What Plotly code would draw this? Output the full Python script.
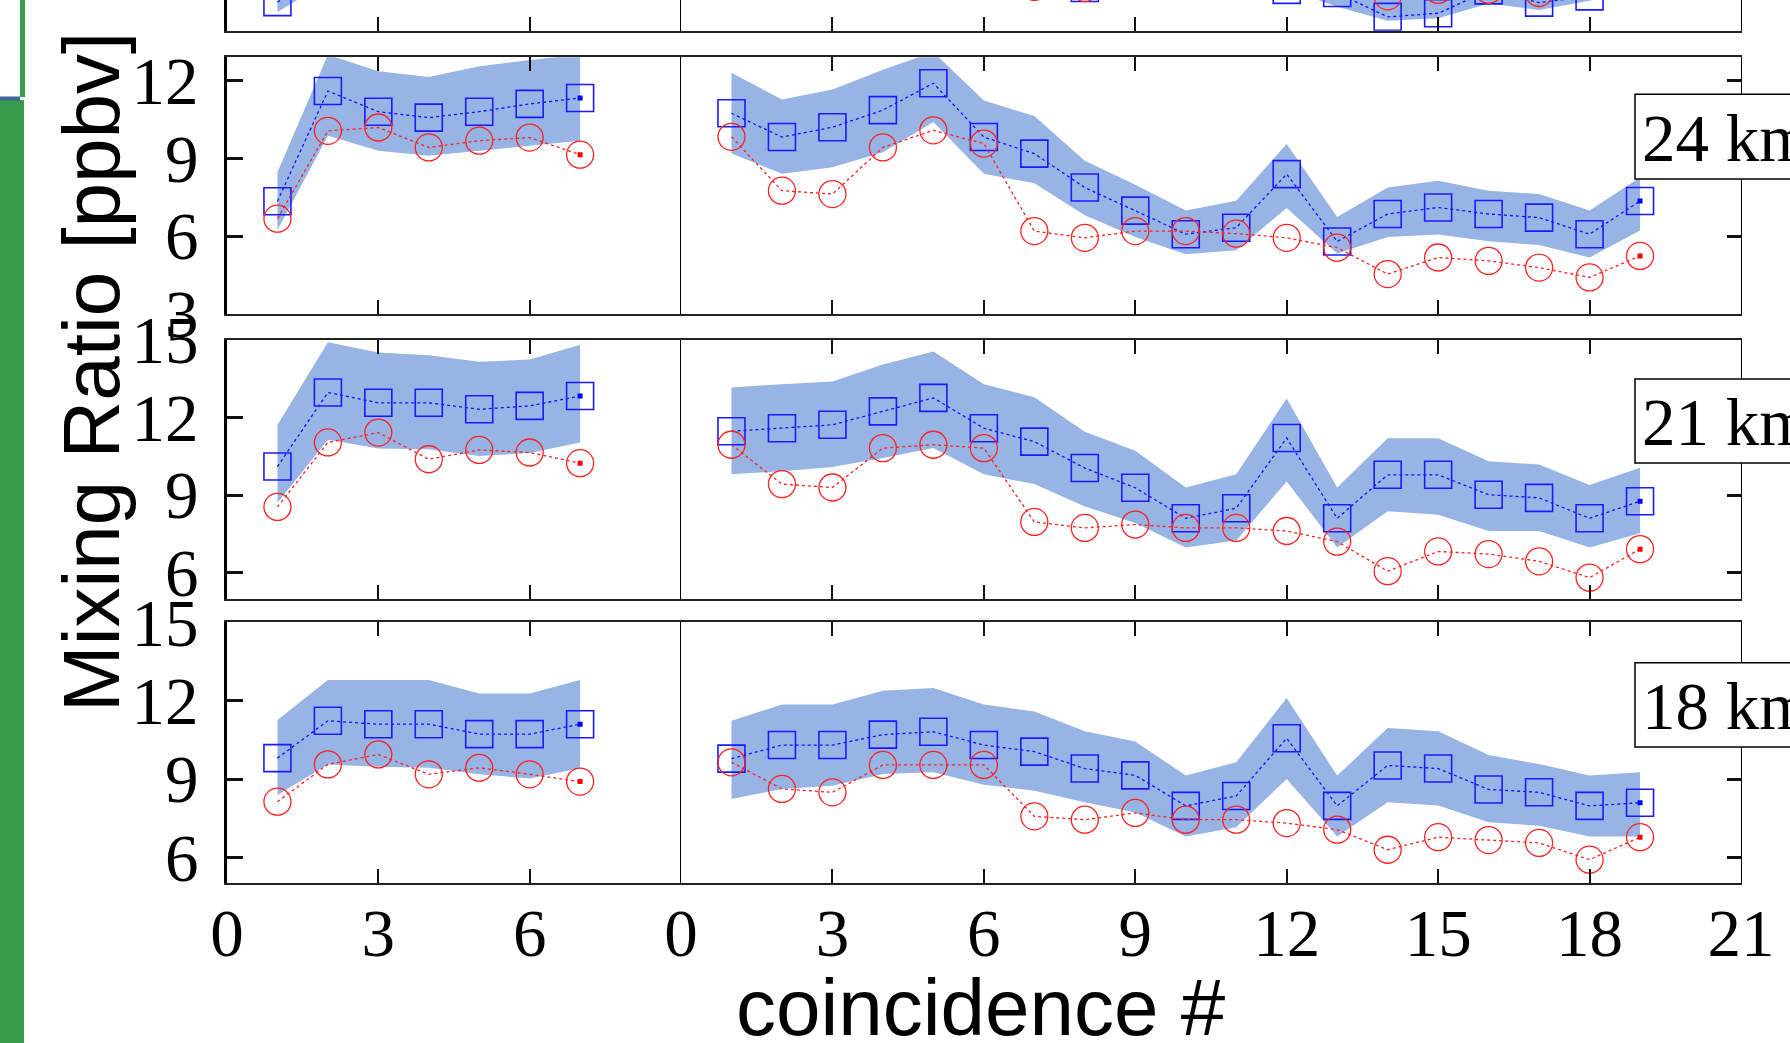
import plotly.graph_objects as go

W, H = 1790, 1043

# ---------------- data ----------------
x_left = [1, 2, 3, 4, 5, 6, 7]
x_right = list(range(1, 20))

left_ticks = [0, 3, 6]
right_ticks = [0, 3, 6, 9, 12, 15, 18, 21]

panel_labels = ["", "24 km", "21 km", "18 km"]

# partially visible top panel
top_blue_l = [1.10, 2.30, 2.20, 2.20, 2.20, 2.20, 2.20]
top_red_l = [1.90, 2.40, 2.40, 2.40, 2.40, 2.40, 2.40]
top_lo_l = [0.72, 1.90, 1.90, 1.90, 1.90, 1.90, 1.90]
top_hi_l = [2.20, 3.40, 3.40, 3.40, 3.40, 3.40, 3.40]
top_blue_r = [2.5, 2.5, 2.5, 2.5, 2.5, 2.4, 1.9, 1.64, 2.0, 2.2, 2.0, 1.57, 1.45, 0.53, 0.67, 1.55, 1.08, 1.32, 1.9]
top_red_r = [2.6, 2.6, 2.6, 2.6, 2.6, 2.5, 1.68, 1.64, 2.2, 2.3, 2.2, 1.8, 1.75, 1.32, 1.57, 1.57, 1.45, 1.9, 2.0]
top_lo_r = [2.3, 2.3, 2.3, 2.3, 2.3, 2.3, 1.6, 1.5, 1.9, 1.9, 1.9, 1.6, 0.92, 0.38, 0.48, 1.05, 0.8, 1.15, 1.6]
top_hi_r = [3.8, 3.8, 3.8, 3.8, 3.8, 3.8, 3.1, 3.0, 3.4, 3.4, 3.4, 3.1, 2.4, 1.9, 2.0, 2.5, 2.3, 2.6, 3.1]

# 24 km
km24_blue_l = [7.34, 11.6, 10.8, 10.57, 10.8, 11.1, 11.33]
km24_red_l = [6.67, 10.06, 10.19, 9.42, 9.68, 9.80, 9.14]
km24_hi_l = [8.46, 13.0, 12.36, 12.14, 12.55, 12.8, 13.0]
km24_lo_l = [6.23, 9.87, 9.29, 9.10, 9.29, 9.48, 9.68]
km24_blue_r = [10.74, 9.82, 10.2, 10.86, 11.9, 9.82, 9.18, 7.87, 6.98, 6.07, 6.32, 8.39, 5.79, 6.85, 7.10, 6.85, 6.71, 6.07, 7.35]
km24_red_r = [9.83, 7.75, 7.62, 9.42, 10.08, 9.57, 6.19, 5.93, 6.19, 6.19, 6.09, 5.93, 5.55, 4.53, 5.17, 5.04, 4.78, 4.40, 5.23]
km24_hi_r = [12.3, 11.27, 11.66, 12.42, 13.1, 11.23, 10.63, 8.91, 7.98, 6.98, 7.36, 9.55, 6.73, 7.87, 8.13, 7.75, 7.62, 6.98, 8.26]
km24_lo_r = [9.19, 8.40, 8.65, 9.23, 10.4, 8.40, 8.04, 6.80, 5.96, 5.30, 5.45, 7.08, 5.32, 5.96, 6.06, 5.80, 5.65, 5.17, 6.21]

# 21 km
km21_blue_l = [10.1, 12.96, 12.56, 12.56, 12.31, 12.44, 12.82]
km21_red_l = [8.54, 11.03, 11.41, 10.38, 10.74, 10.64, 10.23]
km21_hi_l = [11.7, 14.9, 14.5, 14.4, 14.14, 14.23, 14.8]
km21_lo_l = [8.7, 11.13, 10.8, 10.77, 10.51, 10.62, 11.03]
km21_blue_r = [11.46, 11.58, 11.71, 12.23, 12.75, 11.58, 11.06, 10.04, 9.28, 8.10, 8.49, 11.2, 8.10, 9.78, 9.78, 9.01, 8.89, 8.10, 8.76]
km21_red_r = [10.94, 9.42, 9.29, 10.81, 10.94, 10.81, 7.96, 7.73, 7.86, 7.73, 7.73, 7.61, 7.20, 6.06, 6.82, 6.72, 6.44, 5.81, 6.91]
km21_hi_r = [13.15, 13.28, 13.38, 14.04, 14.54, 13.28, 12.77, 11.44, 10.71, 9.29, 9.80, 12.73, 9.29, 11.19, 11.19, 10.30, 10.18, 9.39, 10.05]
km21_lo_r = [9.80, 9.92, 10.08, 10.43, 10.81, 9.80, 9.42, 8.56, 7.92, 6.97, 7.24, 9.52, 6.97, 8.37, 8.24, 7.61, 7.61, 6.97, 7.52]

# 18 km
km18_blue_l = [9.80, 11.23, 11.10, 11.10, 10.72, 10.72, 11.10]
km18_red_l = [8.13, 9.56, 9.94, 9.18, 9.43, 9.18, 8.90]
km18_hi_l = [11.26, 12.79, 12.79, 12.79, 12.28, 12.28, 12.79]
km18_lo_l = [8.39, 9.56, 9.47, 9.43, 9.18, 9.02, 9.41]
km18_blue_r = [9.78, 10.3, 10.3, 10.7, 10.81, 10.3, 10.05, 9.40, 9.14, 7.97, 8.35, 10.56, 7.97, 9.52, 9.40, 8.60, 8.49, 7.97, 8.09]
km18_red_r = [9.64, 8.62, 8.49, 9.54, 9.54, 9.54, 7.57, 7.44, 7.70, 7.44, 7.44, 7.31, 7.06, 6.29, 6.77, 6.66, 6.55, 5.91, 6.77]
km18_hi_r = [11.23, 11.85, 11.85, 12.38, 12.49, 11.85, 11.59, 10.83, 10.44, 9.13, 9.64, 12.10, 9.13, 10.95, 10.83, 9.92, 9.57, 9.13, 9.26]
km18_lo_r = [8.23, 8.62, 8.74, 9.19, 9.26, 8.78, 8.55, 8.11, 7.72, 6.80, 7.15, 9.00, 6.80, 8.11, 7.98, 7.34, 7.21, 6.80, 6.80]

y_ranges = [[0, 1.18], [3, 12.9], [5, 15], [5, 15]]
y_ticks = [[0], [3, 6, 9, 12], [6, 9, 12, 15], [6, 9, 12, 15]]

panel_data = [
    [(top_blue_l, top_red_l, top_lo_l, top_hi_l), (top_blue_r, top_red_r, top_lo_r, top_hi_r)],
    [(km24_blue_l, km24_red_l, km24_lo_l, km24_hi_l), (km24_blue_r, km24_red_r, km24_lo_r, km24_hi_r)],
    [(km21_blue_l, km21_red_l, km21_lo_l, km21_hi_l), (km21_blue_r, km21_red_r, km21_lo_r, km21_hi_r)],
    [(km18_blue_l, km18_red_l, km18_lo_l, km18_hi_l), (km18_blue_r, km18_red_r, km18_lo_r, km18_hi_r)],
]

# ---------------- layout geometry (pixels) ----------------
col_px = [(227, 681), (681, 1741)]
row_px = [(0, 30.7), (57.3, 313.7), (339.6, 598.6), (622.4, 883.4)]
label_box_px = [None, (94.3, 179), (379, 463), (662.7, 747)]


def fx(p):
    return p / W


def fy(p):
    return 1 - p / H


BAND = "#98b4e5"
SERIF = "Liberation Serif, Times New Roman, serif"
SANS = "Liberation Sans, Arial, sans-serif"
TICK_SIZE = 67

fig = go.Figure()
layout = dict(
    template="none",
    width=W, height=H, autosize=False,
    margin=dict(l=0, r=0, t=0, b=0, pad=0, autoexpand=False),
    paper_bgcolor="white", plot_bgcolor="white",
    showlegend=False,
)

xs_cols = [x_left, x_right]
x_ranges = [[0, 9], [0, 21]]
x_tickvals = [left_ticks, right_ticks]

for r in range(4):
    for c in range(2):
        k = 2 * r + c + 1
        xa = "x" if k == 1 else f"x{k}"
        ya = "y" if k == 1 else f"y{k}"
        xs = xs_cols[c]
        blue, red, lo, hi = panel_data[r][c]
        fig.add_trace(go.Scatter(
            x=list(xs) + list(xs)[::-1], y=list(hi) + list(lo)[::-1],
            fill="toself", fillcolor=BAND, line=dict(width=0),
            mode="lines", hoverinfo="skip", xaxis=xa, yaxis=ya))
        fig.add_trace(go.Scatter(
            x=xs, y=blue, mode="lines+markers",
            line=dict(color="#1010ff", width=1.3, dash="dot"),
            marker=dict(symbol="square-open", size=27, color="#1a1aff",
                        line=dict(width=1.6, color="#1a1aff")),
            xaxis=xa, yaxis=ya))
        fig.add_trace(go.Scatter(
            x=xs, y=red, mode="lines+markers",
            line=dict(color="#ff2020", width=1.3, dash="dot"),
            marker=dict(symbol="circle-open", size=27, color="#ff2020",
                        line=dict(width=1.3, color="#ff2020")),
            xaxis=xa, yaxis=ya))
        fig.add_trace(go.Scatter(
            x=[xs[-1], xs[-1]], y=[blue[-1], red[-1]], mode="markers",
            marker=dict(symbol="square", size=5, color=["#0000ff", "#ff0000"]),
            xaxis=xa, yaxis=ya))

        xkey = "xaxis" if k == 1 else f"xaxis{k}"
        ykey = "yaxis" if k == 1 else f"yaxis{k}"
        layout[xkey] = dict(
            domain=[fx(col_px[c][0]), fx(col_px[c][1])],
            anchor=ya, range=x_ranges[c], tickvals=x_tickvals[c],
            automargin=False, showgrid=False, zeroline=False,
            showline=True, linecolor="#222", linewidth=2,
            mirror=("allticks" if r > 0 else False),
            ticks="inside", ticklen=14, tickwidth=1.5, tickcolor="#111",
            showticklabels=(r == 3),
            tickfont=dict(family=SERIF, size=TICK_SIZE, color="black"),
            ticklabelstandoff=-10,
        )
        ydict = dict(
            domain=[fy(row_px[r][1]), fy(row_px[r][0])],
            anchor=xa, range=y_ranges[r], tickvals=y_ticks[r],
            automargin=False, showgrid=False, zeroline=False,
            ticks="inside", tickcolor="#111",
        )
        if c == 0:
            ydict.update(showline=True, linecolor="black", linewidth=3, mirror=False,
                         ticklen=16, tickwidth=2.5, showticklabels=True,
                         tickfont=dict(family=SERIF, size=TICK_SIZE, color="black"),
                         ticklabelstandoff=12)
        else:
            ydict.update(side="right", showline=True, linecolor="black", linewidth=1.2,
                         mirror=True, ticklen=14, tickwidth=2.5, showticklabels=False)
        layout[ykey] = ydict

shapes = []
annotations = []
for r in range(1, 4):
    t, b = label_box_px[r]
    shapes.append(dict(type="rect", xref="paper", yref="paper",
                       x0=fx(1635), x1=fx(1830), y0=fy(b), y1=fy(t),
                       line=dict(color="black", width=1.5), fillcolor="white", layer="above"))
    annotations.append(dict(text=panel_labels[r], xref="paper", yref="paper",
                            x=fx(1640), y=fy((t + b) / 2 + 1), xanchor="left", yanchor="middle",
                            showarrow=False, font=dict(family=SERIF, size=TICK_SIZE, color="black")))

shapes.append(dict(type="rect", xref="paper", yref="paper", x0=0, x1=fx(24), y0=0, y1=fy(100),
                   line=dict(width=0), fillcolor="#3a9b4a", layer="above"))
shapes.append(dict(type="rect", xref="paper", yref="paper", x0=fx(20), x1=fx(25), y0=fy(97), y1=1,
                   line=dict(width=0), fillcolor="#3a9b4a", layer="above"))
shapes.append(dict(type="rect", xref="paper", yref="paper", x0=0, x1=fx(20), y0=fy(100.5), y1=fy(96.5),
                   line=dict(width=0), fillcolor="#3f6797", layer="above"))

annotations.append(dict(text="Mixing Ratio [ppbv]", xref="paper", yref="paper",
                        x=fx(91), y=fy(372), xanchor="center", yanchor="middle",
                        textangle=-90, showarrow=False,
                        font=dict(family=SANS, size=80, color="black")))
annotations.append(dict(text="coincidence #", xref="paper", yref="paper",
                        x=fx(981), y=fy(1007), xanchor="center", yanchor="middle",
                        showarrow=False, font=dict(family=SANS, size=80, color="black")))

layout["shapes"] = shapes
layout["annotations"] = annotations
fig.update_layout(**layout)

fig.write_html("out.html", config={"displayModeBar": False},
               post_script="document.body.style.margin='0';document.body.style.overflow='hidden';")
